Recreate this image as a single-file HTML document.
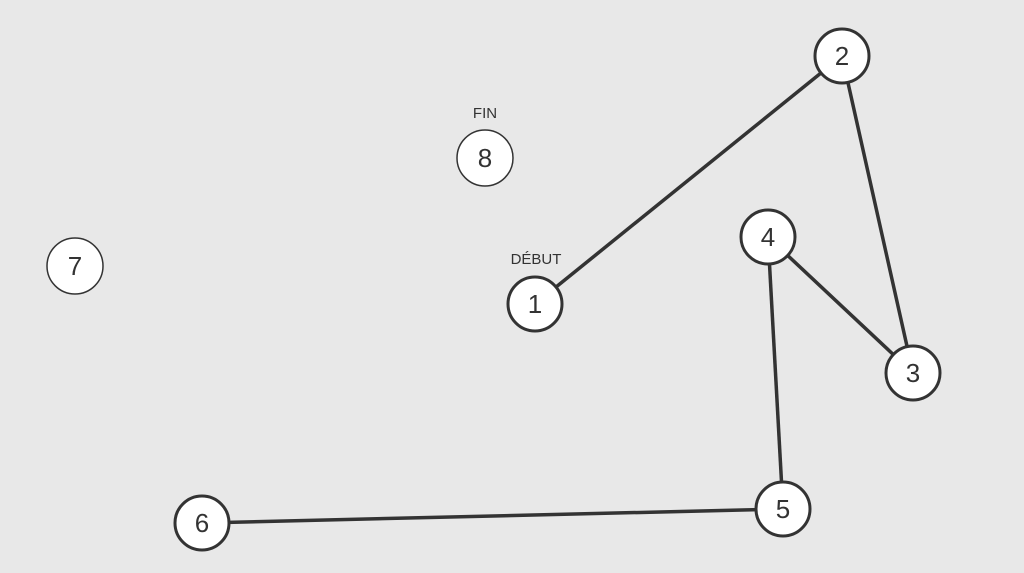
<!DOCTYPE html>
<html><head><style>html,body{margin:0;padding:0;background:#e8e8e8;}svg{display:block}</style></head>
<body>
<svg width="1024" height="573" viewBox="0 0 1024 573" xmlns="http://www.w3.org/2000/svg" font-family="Liberation Sans, sans-serif">
<g stroke="#333" stroke-width="3.5" fill="none">
<line x1="535" y1="304" x2="842" y2="56"/>
<line x1="842" y1="56" x2="913" y2="373"/>
<line x1="913" y1="373" x2="768" y2="237"/>
<line x1="768" y1="237" x2="783" y2="509"/>
<line x1="783" y1="509" x2="202" y2="523"/>
</g>
<g fill="#fff" stroke="#333" stroke-width="3">
<circle cx="535" cy="304" r="27"/>
<circle cx="842" cy="56" r="27"/>
<circle cx="913" cy="373" r="27"/>
<circle cx="768" cy="237" r="27"/>
<circle cx="783" cy="509" r="27"/>
<circle cx="202" cy="523" r="27"/>
</g>
<g fill="#fff" stroke="#333" stroke-width="1.5">
<circle cx="75" cy="266" r="28"/>
<circle cx="485" cy="158" r="28"/>
</g>
<g fill="#333" font-size="26" text-anchor="middle">
<text x="535" y="313">1</text>
<text x="842" y="65">2</text>
<text x="913" y="382">3</text>
<text x="768" y="246">4</text>
<text x="783" y="518">5</text>
<text x="202" y="532">6</text>
<text x="75" y="275">7</text>
<text x="485" y="167">8</text>
</g>
<g fill="#333" font-size="15" text-anchor="middle">
<text x="485" y="118">FIN</text>
<text x="536" y="264">DÉBUT</text>
</g>
</svg>
</body></html>
